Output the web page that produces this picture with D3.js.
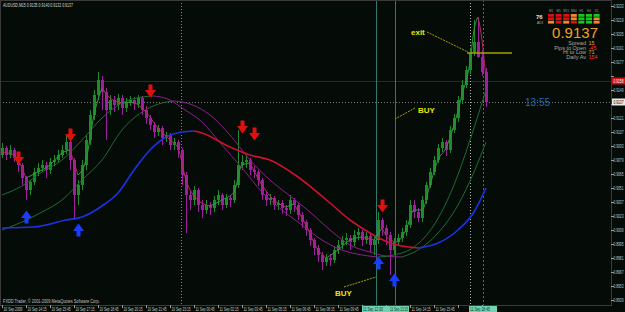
<!DOCTYPE html>
<html>
<head>
<meta charset="utf-8">
<script src="https://cdn.jsdelivr.net/npm/d3@7"></script>
<style>
  html, body { margin: 0; padding: 0; background: #050c07; overflow: hidden; }
  svg { display: block; }
  text { font-family: "Liberation Sans", Arial, sans-serif; }
</style>
</head>
<body>
<div id="chart"></div>
<script>
// AUDUSD M15 - candles, three two-colour MAs, a trend MA and signal arrows
const W = 625, H = 312;
const plotRight = 611, plotBottom = 305;

const title = "AUDUSD,M15  0.9135 0.9140 0.9132 0.9137";
const copyright = "FXDD Trader, \u00a9 2001-2009 MetaQuotes Software Corp.";

// candles (open = previous close)
const firstOpen = 0.9084;
const closes = [
  0.9091,0.9084,0.9089,0.9081,0.9074,0.9061,0.9049,0.9057,0.9067,0.9071,
  0.9074,0.9069,0.9077,0.9079,0.9084,0.9089,0.9097,0.9079,0.9044,0.9054,
  0.9074,0.9099,0.9124,0.9144,0.9159,0.9147,0.9129,0.9139,0.9134,0.9141,
  0.9131,0.9137,0.9139,0.9135,0.9141,0.9129,0.9121,0.9114,0.9107,0.9111,
  0.9101,0.9104,0.9094,0.9097,0.9089,0.9064,0.9044,0.9039,0.9049,0.9034,
  0.9029,0.9034,0.9031,0.9039,0.9044,0.9034,0.9041,0.9039,0.9054,0.9074,
  0.9077,0.9079,0.9069,0.9067,0.9059,0.9044,0.9039,0.9041,0.9034,0.9036,
  0.9031,0.9029,0.9039,0.9034,0.9024,0.9017,0.9009,0.8999,0.8991,0.8984,
  0.8977,0.8981,0.8979,0.8989,0.8994,0.8999,0.9001,0.8997,0.9004,0.9007,
  0.8999,0.9003,0.8994,0.8999,0.9019,0.9011,0.9004,0.8989,0.8997,0.9001,
  0.9007,0.9014,0.9034,0.9027,0.9021,0.9039,0.9054,0.9067,0.9079,0.9091,
  0.9097,0.9089,0.9109,0.9121,0.9139,0.9154,0.9169,0.9186,0.9197,0.9182,
  0.9167,0.9137
];
const highs = [
  0.9096,0.9093,0.9094,0.9091,0.9084,0.9076,0.9063,0.9059,0.9071,0.9076,
  0.9079,0.9077,0.9081,0.9084,0.9089,0.9094,0.9104,0.9099,0.9081,0.9059,
  0.9079,0.9104,0.9129,0.9149,0.9167,0.9163,0.9151,0.9144,0.9143,0.9145,
  0.9144,0.9141,0.9143,0.9142,0.9144,0.9143,0.9133,0.9124,0.9117,0.9114,
  0.9113,0.9107,0.9106,0.9101,0.9099,0.9091,0.9067,0.9049,0.9053,0.9051,
  0.9039,0.9039,0.9037,0.9043,0.9049,0.9046,0.9045,0.9044,0.9059,0.9109,
  0.9084,0.9084,0.9081,0.9073,0.9069,0.9061,0.9047,0.9045,0.9043,0.9039,
  0.9039,0.9034,0.9044,0.9041,0.9036,0.9027,0.9019,0.9011,0.9001,0.8994,
  0.8987,0.8985,0.8985,0.8993,0.8999,0.9003,0.9006,0.9004,0.9009,0.9011,
  0.9009,0.9007,0.9005,0.9003,0.9027,0.9021,0.9014,0.9007,0.9001,0.9005,
  0.9011,0.9019,0.9039,0.9039,0.9031,0.9043,0.9057,0.9071,0.9083,0.9095,
  0.9101,0.9099,0.9113,0.9125,0.9143,0.9159,0.9173,0.9191,0.9219,0.9221,
  0.9189,0.9171
];
const lows = [
  0.9081,0.9079,0.9081,0.9077,0.9067,0.9054,0.9039,0.9044,0.9054,0.9063,
  0.9067,0.9061,0.9065,0.9073,0.9076,0.9081,0.9085,0.9069,0.9019,0.9034,
  0.9049,0.9069,0.9094,0.9119,0.9139,0.9129,0.9099,0.9124,0.9127,0.9129,
  0.9124,0.9127,0.9133,0.9129,0.9131,0.9124,0.9115,0.9109,0.9101,0.9103,
  0.9094,0.9097,0.9089,0.9089,0.9081,0.9054,0.9006,0.9029,0.9034,0.9027,
  0.9021,0.9025,0.9024,0.9027,0.9034,0.9029,0.9031,0.9032,0.9036,0.9051,
  0.9069,0.9071,0.9064,0.9061,0.9053,0.9039,0.9033,0.9034,0.9029,0.9029,
  0.9025,0.9023,0.9025,0.9027,0.9019,0.9011,0.9003,0.8993,0.8984,0.8977,
  0.8969,0.8973,0.8973,0.8976,0.8985,0.8990,0.8994,0.8989,0.8993,0.8999,
  0.8993,0.8995,0.8987,0.8984,0.8995,0.9003,0.8994,0.8964,0.8984,0.8993,
  0.8997,0.9003,0.9011,0.9021,0.9017,0.9017,0.9035,0.9051,0.9064,0.9076,
  0.9087,0.9083,0.9086,0.9106,0.9117,0.9135,0.9151,0.9165,0.9183,0.9181,
  0.9163,0.9132
];

// moving averages, [bar, price]
const fastMA = [[0,0.9087],[3,0.9084],[6,0.9061],[9,0.9067],[12,0.9074],[15,0.9086],[17,0.9089],[19,0.9064],
  [21,0.9079],[23,0.9124],[25,0.9151],[27,0.9141],[30,0.9136],[33,0.9137],[36,0.9127],[39,0.9111],[42,0.9099],
  [44,0.9091],[46,0.9059],[49,0.9039],[52,0.9033],[55,0.9039],[58,0.9047],[60,0.9074],[62,0.9076],[65,0.9054],
  [68,0.9039],[71,0.9032],[73,0.9035],[76,0.9014],[79,0.8989],[81,0.8981],[84,0.8989],[87,0.8999],[90,0.9002],
  [93,0.8999],[95,0.9011],[97,0.8999],[99,0.8997],[101,0.9009],[103,0.9029],[105,0.9029],[107,0.9054],
  [109,0.9079],[111,0.9091],[113,0.9114],[115,0.9144],[117,0.9177],[118,0.9209],[119,0.9222],[120,0.9199],[121,0.9159]];
const midMA = [[0,0.9044],[5,0.9053],[10,0.9067],[15,0.9079],[20,0.9099],[25,0.9121],[30,0.9136],[35,0.9142],
  [38,0.9143],[42,0.9139],[45,0.9131],[50,0.9117],[55,0.9094],[60,0.9071],[65,0.9047],[70,0.9029],[75,0.9014],
  [80,0.8999],[85,0.8989],[90,0.8984],[94,0.8982],[98,0.8984],[103,0.8992],[108,0.9014],[113,0.9054],[117,0.9099],[121,0.9149]];
const slowMA = [[0,0.9009],[5,0.9017],[10,0.9027],[15,0.9039],[20,0.9059],[25,0.9079],[30,0.9109],[35,0.9127],
  [40,0.9136],[43,0.9138],[47,0.9135],[52,0.9124],[57,0.9104],[62,0.9079],[67,0.9059],[72,0.9043],[77,0.9027],
  [82,0.9009],[87,0.8994],[92,0.8987],[96,0.8983],[100,0.8982],[104,0.8989],[109,0.9006],[114,0.9034],[118,0.9067],[121,0.9097]];
const trendMA = [[0,0.9011],[8,0.9012],[16,0.9019],[20,0.9022],[25,0.9033],[29,0.9046],[33,0.9069],[37,0.9089],
  [41,0.9102],[45,0.9107],[48,0.9108],[50,0.9106],[57,0.9092],[62,0.9084],[67,0.9079],[74,0.9062],[82,0.9036],
  [87,0.9019],[92,0.9006],[97,0.8996],[104,0.8991],[109,0.8996],[114,0.9009],[118,0.9027],[121,0.9051]];

// signal arrows
const sellBars = [4, 17, 37, 60, 63, 95];
const sellPrices = [0.9081, 0.9104, 0.9148, 0.9112, 0.9105, 0.9033];
const buyBars = [6, 19, 94, 98];
const buyPrices = [0.9022, 0.9009, 0.8976, 0.8959];

// chart objects
const hLinePrice = 0.9158;
const bidPrice = 0.9137;
const exitPrice = 0.9186, exitFrom = 116.25, exitTo = 127.5;
const vlineBars = [44.75, 93.5, 98.25, 117, 120.25];
const vlineTimes = ["", "11 Sep 12:00", "11 Sep 13:15", "", "11 Sep 18:45"];

// axes
const priceTicks = [0.9233,0.9219,0.9205,0.9191,0.9177,0.9163,0.9149,0.9135,0.9121,0.9107,0.9093,
  0.9079,0.9065,0.9051,0.9037,0.9023,0.9009,0.8995,0.8981,0.8967,0.8953,0.8939];
const timeTickBars = [0,6,12,18,24,30,36,42,48,54,60,66,72,78,84,90,96,102,108,114,120];
const timeLabels = ["10 Sep 2009","10 Sep 14:15","10 Sep 15:45","10 Sep 17:15","10 Sep 18:45","10 Sep 20:15",
  "10 Sep 21:45","10 Sep 23:15","11 Sep 00:45","11 Sep 02:15","11 Sep 03:45","11 Sep 05:15","11 Sep 06:45",
  "11 Sep 08:15","11 Sep 09:45","11 Sep 11:15","11 Sep 12:45","11 Sep 14:15","11 Sep 15:45","11 Sep 17:15","11 Sep 18:45"];

// info panel
const frames = ["M1","M5","M15","M30","H1","H4","D1"];
const frameSignals = [
  [-1,-1,-1, 0, 1, 1, 1],
  [-1,-1,-1, 0, 1, 1, 0],
  [ 0,-1, 0,-1, 1, 1, 0]
];
const statNames = ["Spread", "Pips to Open", "Hi to Low", "Daily Av"];
const statValues = ["15", "-45", "71", "154"];
const timerText = "13:55";

const svg = d3.select("#chart").append("svg").attr("width", W).attr("height", H);
svg.append("rect").attr("width", W).attr("height", H).attr("fill", "#050c07");

const x = d3.scaleLinear().domain([0, 152.25]).range([2, plotRight]);
const y = d3.scaleLinear().domain([0.9239, 0.8934]).range([0, plotBottom]);

// squeeze a tiny text to a given width (keeps its real bounding box)
function fit(t, w) {
  const n = t.node().getComputedTextLength();
  const x0 = +t.attr("x"), y0 = +t.attr("y");
  t.attr("x", 0).attr("y", 0).attr("transform", `translate(${x0},${y0}) scale(${Math.min(1, w / n)},1)`);
  return t;
}

svg.append("clipPath").attr("id", "plot")
  .append("rect").attr("x", 0).attr("y", 0).attr("width", plotRight).attr("height", plotBottom);
const plot = svg.append("g").attr("clip-path", "url(#plot)");

// objects behind the candles
plot.append("line")
  .attr("x1", 0).attr("x2", plotRight).attr("y1", Math.round(y(hLinePrice)) + 0.5).attr("y2", Math.round(y(hLinePrice)) + 0.5)
  .attr("stroke", "#4e0f52").attr("stroke-width", 1);
plot.append("line")
  .attr("x1", 0).attr("x2", plotRight).attr("y1", Math.round(y(bidPrice)) + 0.5).attr("y2", Math.round(y(bidPrice)) + 0.5)
  .attr("stroke", "#7a7a7a").attr("stroke-dasharray", "1,2");

const vStyle = [
  {c: "#8a8a8a", d: "1,2"}, {c: "#2f7a68", d: null}, {c: "#2f7a68", d: null},
  {c: "#b8b8b8", d: "1,2"}, {c: "#2f7a68", d: "2,2"}
];
vlineBars.forEach((b, k) => {
  plot.append("line")
    .attr("x1", Math.round(x(b)) + 0.5).attr("x2", Math.round(x(b)) + 0.5)
    .attr("y1", 0).attr("y2", plotBottom)
    .attr("stroke", vStyle[k].c).attr("stroke-dasharray", vStyle[k].d);
});

// candles
const bars = closes.map((c, i) => ({ i, o: i ? closes[i - 1] : firstOpen, h: highs[i], l: lows[i], c }));
const upCol = "#1f8a2c", dnCol = "#a01ea0";
const cg = plot.append("g").attr("shape-rendering", "crispEdges");
cg.selectAll("line.wick").data(bars).enter().append("line")
  .attr("x1", d => x(d.i) + 0.5).attr("x2", d => x(d.i) + 0.5)
  .attr("y1", d => y(d.h)).attr("y2", d => y(d.l))
  .attr("stroke", d => d.c >= d.o ? upCol : dnCol).attr("stroke-width", 1);
cg.selectAll("rect.body").data(bars).enter().append("rect")
  .attr("x", d => x(d.i) - 1)
  .attr("y", d => y(Math.max(d.o, d.c)))
  .attr("width", 3)
  .attr("height", d => Math.max(1, Math.abs(y(d.o) - y(d.c))))
  .attr("fill", d => d.c >= d.o ? upCol : dnCol);

// two-colour moving averages: split into rising / falling runs
function runs(knots) {
  const out = [];
  let cur = [knots[0]], dir = null;
  for (let k = 1; k < knots.length; k++) {
    const up = knots[k][1] >= knots[k - 1][1];
    if (dir === null || up === dir) { cur.push(knots[k]); dir = up; }
    else { out.push({ up: dir, pts: cur }); cur = [knots[k - 1], knots[k]]; dir = up; }
  }
  out.push({ up: dir, pts: cur });
  return out;
}
const line = d3.line().x(d => x(d[0])).y(d => y(d[1])).curve(d3.curveMonotoneX);
function drawMA(knots, upC, dnC, w) {
  runs(knots).forEach(r => {
    plot.append("path").attr("d", line(r.pts)).attr("fill", "none")
      .attr("stroke", r.up ? upC : dnC).attr("stroke-width", w);
  });
}
drawMA(slowMA, "#1f6a33", "#8c1c8c", 1);
drawMA(midMA, "#1f6a33", "#8c1c8c", 1);
drawMA(trendMA, "#1a32e8", "#d0102c", 1.6);
drawMA(fastMA, "#2e9a3e", "#b0305a", 1);

// exit line and annotations
const yellow = "#e6e600", olive = "#a8a000";
plot.append("line")
  .attr("x1", x(exitFrom)).attr("x2", x(exitTo)).attr("y1", y(exitPrice)).attr("y2", y(exitPrice))
  .attr("stroke", olive).attr("stroke-width", 1.5);
const notes = [
  { text: "exit", tb: 102.25, tp: 0.9204, from: [106.25, 0.9207], to: [116.5, 0.9187] },
  { text: "BUY", tb: 104, tp: 0.9126, from: [103.25, 0.9131], to: [98.25, 0.9120] },
  { text: "BUY", tb: 83.25, tp: 0.8943, from: [85.5, 0.8952], to: [93.5, 0.8962] }
];
notes.forEach(n => {
  plot.append("line")
    .attr("x1", x(n.from[0])).attr("y1", y(n.from[1])).attr("x2", x(n.to[0])).attr("y2", y(n.to[1]))
    .attr("stroke", olive).attr("stroke-dasharray", "2,1");
  plot.append("text").attr("x", x(n.tb)).attr("y", y(n.tp))
    .attr("font-size", "8px").attr("font-weight", "bold").attr("fill", yellow).text(n.text);
});

// signal arrows
const downArrow = "M-2,-6.5H2V-1H5.5L0,6.5L-5.5,-1H-2Z";
const upArrow = "M-2,6.5H2V1H5.5L0,-6.5L-5.5,1H-2Z";
plot.selectAll("path.sell").data(sellBars).enter().append("path")
  .attr("d", downArrow).attr("fill", "#e01010")
  .attr("transform", (b, k) => `translate(${x(b) + 0.5},${y(sellPrices[k])})`);
plot.selectAll("path.buy").data(buyBars).enter().append("path")
  .attr("d", upArrow).attr("fill", "#1a3cff")
  .attr("transform", (b, k) => `translate(${x(b) + 0.5},${y(buyPrices[k])})`);

// candle timer
svg.append("text").attr("x", x(closes.length - 1) + 39).attr("y", y(bidPrice) + 3.5)
  .attr("font-size", "10px").attr("fill", "#2a64b4").text(timerText);

// frame / axes
svg.append("line").attr("x1", plotRight + 0.5).attr("x2", plotRight + 0.5).attr("y1", 0).attr("y2", plotBottom + 0.5)
  .attr("stroke", "#9a9a9a");
svg.append("line").attr("x1", 0).attr("x2", plotRight + 0.5).attr("y1", plotBottom + 0.5).attr("y2", plotBottom + 0.5)
  .attr("stroke", "#9a9a9a");
svg.append("rect").attr("x", 0.5).attr("y", 0.5).attr("width", plotRight).attr("height", plotBottom)
  .attr("fill", "none").attr("stroke", "#3a3a3a");

// price axis; ticks hidden under the object labels are skipped
const labelled = [hLinePrice, bidPrice];
const yAxis = svg.append("g");
priceTicks.forEach(p => {
  const yy = Math.round(y(p)) + 0.5;
  yAxis.append("line").attr("x1", plotRight).attr("x2", plotRight + 3).attr("y1", yy).attr("y2", yy).attr("stroke", "#9a9a9a");
  if (labelled.some(q => Math.abs(y(q) - y(p)) < 7)) return;
  fit(yAxis.append("text").attr("x", plotRight + 2.5).attr("y", yy + 1.8)
    .attr("font-size", "5px").attr("fill", "#c8c8c8").text(p.toFixed(4)), 10);
});
function priceLabel(p, bg, fg) {
  const yy = y(p);
  svg.append("rect").attr("x", plotRight + 1).attr("y", yy - 3.5).attr("width", W - plotRight - 1).attr("height", 7).attr("fill", bg);
  fit(svg.append("text").attr("x", plotRight + 2.5).attr("y", yy + 1.8)
    .attr("font-size", "5px").attr("fill", fg).text(p.toFixed(4)), 10);
}
priceLabel(hLinePrice, "#d01010", "#ffffff");
priceLabel(bidPrice, "#e8e8e8", "#000000");

// time axis; labels covered by the object time boxes are skipped
const boxes = vlineBars.map((b, k) => vlineTimes[k] ? [x(b) - 14, x(b) + 14] : null).filter(Boolean);
const xAxis = svg.append("g");
timeTickBars.forEach((b, k) => {
  const xx = Math.round(x(b)) + 0.5;
  xAxis.append("line").attr("x1", xx).attr("x2", xx).attr("y1", plotBottom).attr("y2", plotBottom + 3).attr("stroke", "#9a9a9a");
  if (boxes.some(bx => xx + 20 > bx[0] && xx + 1 < bx[1])) return;
  fit(xAxis.append("text").attr("x", xx + 1).attr("y", plotBottom + 5.5)
    .attr("font-size", "4.6px").attr("fill", "#c8c8c8").text(timeLabels[k]), 19);
});
vlineBars.forEach((b, k) => {
  if (!vlineTimes[k]) return;
  xAxis.append("rect").attr("x", x(b) - 14).attr("y", plotBottom + 1).attr("width", 28).attr("height", 6).attr("fill", "#6fd3b4");
});
// the two close boxes share one strip, so their labels sit side by side
const boxTextX = [0, x(vlineBars[1]) - 13, x(vlineBars[2]) - 5, 0, x(vlineBars[4]) - 13];
vlineBars.forEach((b, k) => {
  if (!vlineTimes[k]) return;
  fit(xAxis.append("text").attr("x", boxTextX[k]).attr("y", plotBottom + 5.6)
    .attr("font-size", "4.6px").attr("fill", "#0c3a2c").text(vlineTimes[k]), k === 2 ? 18 : 20);
});

// corner texts
fit(svg.append("text").attr("x", 3).attr("y", 6.5).attr("font-size", "5px").attr("fill", "#d8d8d8").text(title), 70);
fit(svg.append("text").attr("x", 3).attr("y", 302.5).attr("font-size", "4.6px").attr("fill", "#c0c0c0").text(copyright), 97);

// info panel
const panel = svg.append("g");
const sigColor = { "-1": "#d81010", "0": "#f08830", "1": "#18c818" };
frames.forEach((f, k) => {
  panel.append("text").attr("x", 551 + k * 7.6).attr("y", 12).attr("text-anchor", "middle")
    .attr("font-size", "3px").attr("fill", "#9a9a9a").text(f);
});
frameSignals.forEach((row, r) => {
  row.forEach((s, k) => {
    panel.append("rect").attr("x", 548 + k * 7.6).attr("y", 14 + r * 3.4)
      .attr("width", 6).attr("height", 2.8).attr("fill", sigColor[s]);
  });
});
panel.append("text").attr("x", 536).attr("y", 19).attr("font-size", "6px").attr("font-weight", "bold")
  .attr("fill", "#e0e0e0").text("76");
panel.append("text").attr("x", 537).attr("y", 23.5).attr("font-size", "3px").attr("fill", "#b0b0b0").text("ADX");
panel.append("text").attr("x", 598).attr("y", 38).attr("text-anchor", "end")
  .attr("font-size", "15px").attr("fill", "#f0a020").text(bidPrice.toFixed(4));
const valColor = ["#e8a020", "#ff3030", "#e8a020", "#ff3030"];
statNames.forEach((s, k) => {
  const yy = 44.7 + k * 4.85;
  panel.append("text").attr("x", 586).attr("y", yy).attr("text-anchor", "end")
    .attr("font-size", "5.5px").attr("fill", "#a8a8a8").text(s);
  panel.append("text").attr("x", 588.5).attr("y", yy)
    .attr("font-size", "5.5px").attr("fill", valColor[k]).text(statValues[k]);
});
</script>
</body>
</html>
